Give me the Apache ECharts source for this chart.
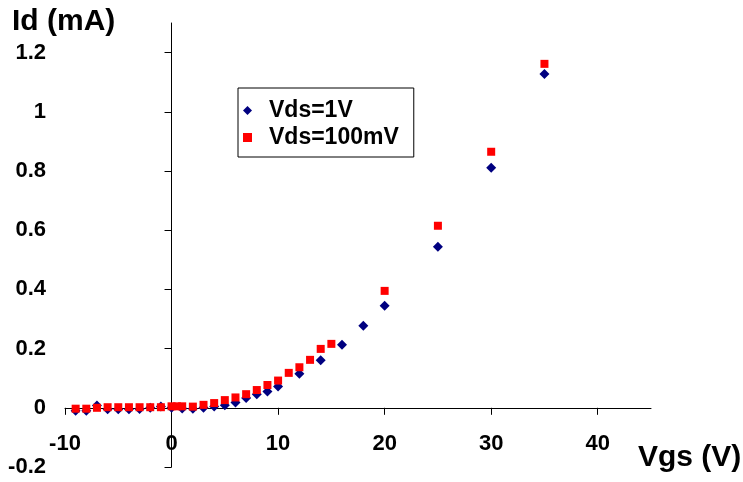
<!DOCTYPE html>
<html>
<head>
<meta charset="utf-8">
<script src="https://cdn.jsdelivr.net/npm/echarts@6/dist/echarts.min.js"></script>
<style>html,body{margin:0;padding:0;background:#fff}#c{width:743px;height:482px}</style>
</head>
<body>
<div id="c"></div>
<script>
// Data
const vgs1V = [-9,-8,-7,-6,-5,-4,-3,-2,-1,0,1,2,3,4,5,6,7,8,9,10,12,14,16,18,20,25,30,35];
const id1V  = [-0.01,-0.01,0.008,-0.005,-0.005,-0.005,-0.004,0,0.004,0,-0.002,-0.003,0,0.004,0.009,0.018,0.033,0.046,0.055,0.072,0.115,0.161,0.213,0.277,0.345,0.544,0.811,1.128];
const vgs100mV = [-9,-8,-7,-6,-5,-4,-3,-2,-1,0,0.5,1,2,3,4,5,6,7,8,9,10,11,12,13,14,15,20,25,30,35];
const id100mV  = [-0.003,-0.003,0,0.002,0.002,0.002,0.002,0.002,0.002,0.005,0.005,0.005,0.004,0.01,0.016,0.026,0.035,0.046,0.06,0.077,0.092,0.118,0.137,0.162,0.199,0.216,0.395,0.615,0.865,1.162];
const xTicks = [-10,0,10,20,30,40];
const yTicks = [-0.2,0,0.2,0.4,0.6,0.8,1,1.2];
const seriesNames = ['Vds=1V','Vds=100mV'];
const xTitle = 'Vgs (V)';
const yTitle = 'Id (mA)';

const FONT = '"Liberation Sans", Arial, sans-serif';
const chart = echarts.init(document.getElementById('c'), null, {renderer:'canvas'});
chart.setOption({
  animation:false,
  backgroundColor:'#fff',
  grid:{left:65,right:92,top:23,bottom:15,containLabel:false,outerBoundsMode:'none'},
  xAxis:{
    type:'value',min:-10,max:45,interval:10,
    axisLine:{onZero:true,lineStyle:{color:'#000',width:1}},
    axisTick:{show:true,length:7,customValues:xTicks,lineStyle:{color:'#000'}},
    axisLabel:{customValues:xTicks,margin:-34,color:'#000',fontSize:22,fontWeight:'bold',fontFamily:FONT},
    splitLine:{show:false}
  },
  yAxis:{
    type:'value',min:-0.2,max:1.3,interval:0.2,
    axisLine:{show:true,onZero:true,lineStyle:{color:'#000',width:1}},
    axisTick:{show:true,length:7,customValues:yTicks,lineStyle:{color:'#000'}},
    axisLabel:{customValues:yTicks,margin:19,color:'#000',fontSize:22,fontWeight:'bold',fontFamily:FONT,
      formatter:v=>String(Math.round(v*10)/10)},
    splitLine:{show:false}
  },
  legend:{
    data:seriesNames,orient:'vertical',left:238,top:88,
    padding:[11,15,8,5],itemGap:4,itemWidth:9,itemHeight:9,
    borderColor:'#000',borderWidth:1,backgroundColor:'#fff',
    textStyle:{fontSize:23,fontWeight:'bold',color:'#000',fontFamily:FONT,padding:[0,0,0,12]}
  },
  graphic:[
    {type:'text',left:12,top:7,style:{text:yTitle,font:'bold 30px '+FONT,fill:'#000'}},
    {type:'text',left:638,top:443,style:{text:xTitle,font:'bold 30px '+FONT,fill:'#000'}}
  ],
  series:[
    {name:seriesNames[0],type:'scatter',symbol:'diamond',symbolSize:[10,10],
      itemStyle:{color:'#000080',opacity:1},data:vgs1V.map((x,i)=>[x,id1V[i]])},
    {name:seriesNames[1],type:'scatter',symbol:'rect',symbolSize:8,
      itemStyle:{color:'#ff0000',opacity:1},data:vgs100mV.map((x,i)=>[x,id100mV[i]])}
  ]
});
</script>
</body>
</html>
